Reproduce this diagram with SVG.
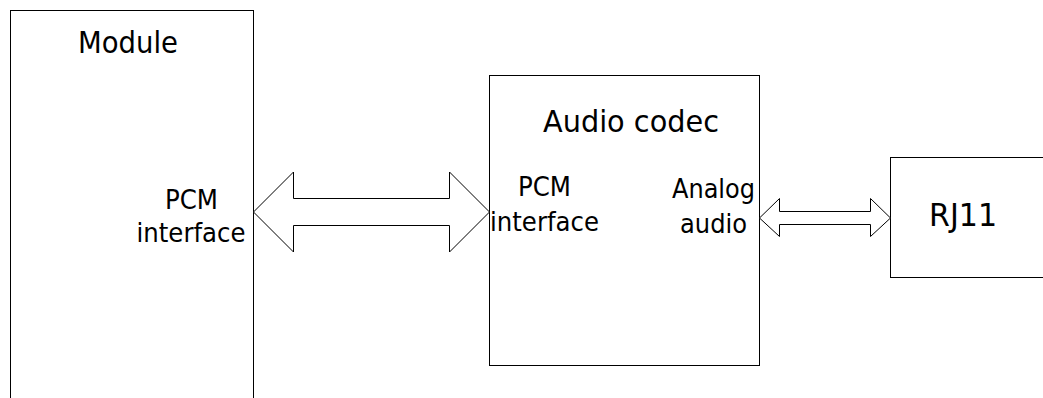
<svg xmlns="http://www.w3.org/2000/svg" width="1043" height="398" viewBox="0 0 1043 398">
<style>
.box{fill:#fff;stroke:#000;stroke-width:1}
.arrow{fill:#fff;stroke:#000;stroke-width:1;stroke-linejoin:miter}
text{font-family:"DejaVu Sans","Liberation Sans",sans-serif;fill:#000;text-anchor:middle}
.title{font-size:30.5px}
.label{font-size:27px}
</style>
<rect width="1043" height="398" fill="#fff"/>
<g id="module">
<rect class="box" x="10.5" y="10.5" width="243" height="400"/>
<text class="title" x="128" y="52.5" textLength="100" lengthAdjust="spacingAndGlyphs">Module</text>
<text class="label" x="191.5" y="209" textLength="53" lengthAdjust="spacingAndGlyphs">PCM</text>
<text class="label" x="191" y="241.5" textLength="109" lengthAdjust="spacingAndGlyphs">interface</text>
</g>
<g id="codec">
<rect class="box" x="489.5" y="75.5" width="270" height="290"/>
<text class="title" x="631" y="131.5" textLength="176" lengthAdjust="spacingAndGlyphs">Audio codec</text>
<text class="label" x="544.5" y="196" textLength="53" lengthAdjust="spacingAndGlyphs">PCM</text>
<text class="label" x="544.5" y="230.5" textLength="109" lengthAdjust="spacingAndGlyphs">interface</text>
<text class="label" x="713.5" y="197.5" textLength="83" lengthAdjust="spacingAndGlyphs">Analog</text>
<text class="label" x="713.5" y="232.5" textLength="67" lengthAdjust="spacingAndGlyphs">audio</text>
</g>
<g id="rj11">
<rect class="box" x="890.5" y="157.5" width="170" height="120"/>
<text class="title" x="963" y="226" textLength="68" lengthAdjust="spacingAndGlyphs" style="font-size:32px">RJ11</text>
</g>
<g id="connectors">
<polygon class="arrow" points="253.5,212 293.5,172 293.5,198.5 449.5,198.5 449.5,172 489.5,212 449.5,252 449.5,225.5 293.5,225.5 293.5,252"/>
<polygon class="arrow" points="759.5,218 779.5,198.5 779.5,211.5 870.5,211.5 870.5,198.5 890.5,218 870.5,236.5 870.5,224.5 779.5,224.5 779.5,236.5"/>
</g>
</svg>
